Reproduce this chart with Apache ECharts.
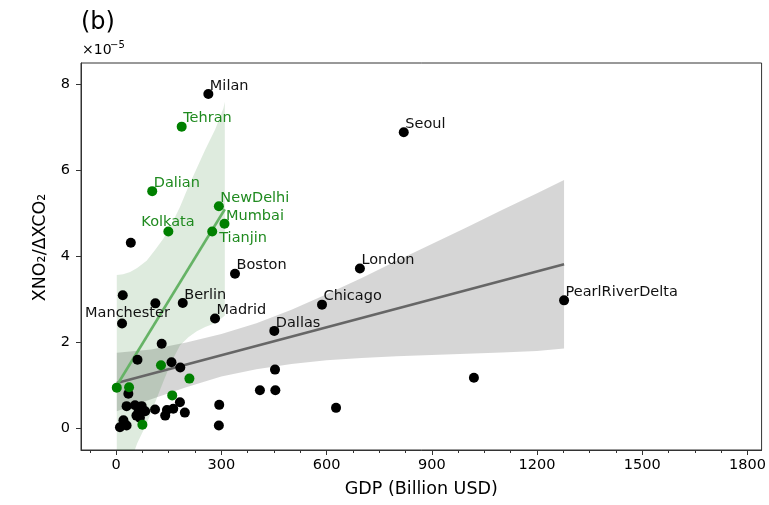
<!DOCTYPE html>
<html><head><meta charset="utf-8">
<script src="https://cdn.jsdelivr.net/npm/echarts@6/dist/echarts.min.js"></script>
<style>html,body{margin:0;padding:0;background:#fff}#c{width:769px;height:505px}</style>
</head><body><div id="c"></div>
<script>
// ---- data (ratio values in units of 1e-5) ----
const blackNames = ['Milan','Seoul','London','Boston','Berlin','Chicago','PearlRiverDelta','Madrid','Manchester','Dallas',
  '','','','','','','','','','','','','','','','','','','','','','','','','','','','','','',''];
const blackGDP = [263,820,695,339,190,587,1277,282,17,451,
  42,19,112,130,61,158,183,453,410,454,627,1020,35,182,294,293,30,54,73,64,83,68,58,111,140,145,163,196,21,11,30];
const blackRatio = [7.78,6.89,3.72,3.60,2.92,2.88,2.98,2.56,2.44,2.27,
  4.32,3.10,2.91,1.97,1.60,1.54,1.42,1.37,0.89,0.89,0.48,1.18,0.81,0.61,0.55,0.07,0.52,0.54,0.52,0.38,0.40,0.25,0.30,0.44,0.30,0.43,0.46,0.37,0.19,0.03,0.07];

const greenNames = ['Tehran','Dalian','NewDelhi','Mumbai','Tianjin','Kolkata','','','','','',''];
const greenGDP = [187,103,293,309,274,149,128,209,2,37,160,75];
const greenRatio = [7.02,5.52,5.17,4.76,4.58,4.58,1.47,1.16,0.95,0.96,0.77,0.09];

const greyFitGDP = [2, 1277];
const greyFitRatio = [1.06, 3.82];
const greenFitGDP = [2, 310];
const greenFitRatio = [1.00, 5.10];

const greyBandGDP = [2,100,200,300,400,500,600,700,800,900,1000,1100,1200,1277];
const greyBandUpper = [1.76,1.84,2.00,2.20,2.45,2.76,3.12,3.50,3.90,4.29,4.68,5.08,5.47,5.78];
const greyBandLower = [0.40,0.68,0.96,1.21,1.38,1.50,1.59,1.64,1.68,1.71,1.74,1.77,1.80,1.86];

const greenBandGDP = [2,20,40,60,87,111,135,158,182,206,230,254,282,306,310];
const greenBandUpper = [3.57,3.59,3.64,3.73,3.90,4.15,4.42,4.75,5.15,5.62,6.05,6.48,6.95,7.45,7.60];
const greenBandLower = [-2.5,-1.6,-0.8,-0.35,0.11,0.60,1.10,1.55,1.93,2.12,2.26,2.36,2.45,2.60,2.63];

const xTicks = [0,300,600,900,1200,1500,1800];
const xMinorTicks = [-75,75,150,225,375,450,525,675,750,825,975,1050,1125,1275,1350,1425,1575,1650,1725];
const yTicks = [0,2,4,6,8];

// ---- styling ----
const FONT = 'DejaVu Sans';
const labelPos = { Tianjin:[12,11.5], Kolkata:[-22,-4.5], Manchester:[-32,-5] };
const defaultPos = [6.5,-3];

function pointData(xs, ys, names, color){
  return xs.map((x,i)=>({
    value:[x, ys[i]],
    name: names[i],
    label:{
      show: !!names[i],
      formatter: names[i],
      position: labelPos[names[i]] || defaultPos,
      align:'left', verticalAlign:'middle',
      fontFamily: FONT, fontSize:14.5, color: color
    }
  }));
}

function bandSeries(xs, up, lo, color, z){
  return {
    type:'custom', coordinateSystem:'cartesian2d', silent:true, z:z,
    data: xs.map((x,i)=>[x, up[i], lo[i]]),
    encode:{x:0, y:[1,2]},
    renderItem(params, api){
      if (params.dataIndex !== 0) return;
      const pts = [];
      for (let i=0;i<xs.length;i++) pts.push(api.coord([xs[i], up[i]]));
      for (let i=xs.length-1;i>=0;i--) pts.push(api.coord([xs[i], lo[i]]));
      const cs = params.coordSys;
      return { type:'polygon', shape:{points:pts}, style:{fill:color},
        clipPath:{type:'rect', shape:{x:cs.x, y:cs.y, width:cs.width, height:cs.height}} };
    }
  };
}

const chart = echarts.init(document.getElementById('c'), null, {renderer:'canvas'});
chart.setOption({
  animation:false,
  backgroundColor:'#fff',
  title:{ text:'(b)', left:81, top:11, padding:0,
    textStyle:{fontFamily:FONT, fontSize:24, fontWeight:'normal', color:'#000'} },
  graphic:[
    {type:'text', left:82, top:43, style:{text:'×10', fontFamily:FONT, fontSize:14, fill:'#000'}},
    {type:'text', left:110, top:40, style:{text:'−5', fontFamily:FONT, fontSize:10, fill:'#000'}}
  ],
  grid:{left:81, right:6, top:63, bottom:55, show:true, borderColor:'#333', borderWidth:1, backgroundColor:'transparent'},
  xAxis:[{
    type:'value', min:-100, max:1840,
    name:'GDP (Billion USD)', nameLocation:'middle', nameGap:30,
    nameTextStyle:{fontFamily:FONT, fontSize:17.5, color:'#000'},
    axisLine:{show:true, onZero:false, lineStyle:{color:'#333', width:1}},
    axisTick:{show:true, customValues:xTicks, length:5, lineStyle:{color:'#333', width:1}},
    axisLabel:{customValues:xTicks, formatter:(v)=>String(v), fontFamily:FONT, fontSize:14.5, color:'#000', margin:8},
    splitLine:{show:false}
  },{
    type:'value', min:-100, max:1840, position:'bottom',
    axisLine:{show:false, onZero:false},
    axisTick:{show:true, customValues:xMinorTicks, length:3, lineStyle:{color:'#333', width:1}},
    axisLabel:{show:false}, splitLine:{show:false}
  }],
  yAxis:{
    type:'value', min:-0.5, max:8.5,
    name:'XNO₂/ΔXCO₂', nameLocation:'middle', nameGap:28, nameRotate:90,
    nameTextStyle:{fontFamily:FONT, fontSize:17.5, color:'#000', padding:[0,0,0,18]},
    axisLine:{show:true, onZero:false, lineStyle:{color:'#333', width:1}},
    axisTick:{show:true, customValues:yTicks, length:5, lineStyle:{color:'#333', width:1}},
    axisLabel:{customValues:yTicks, formatter:(v)=>String(v), fontFamily:FONT, fontSize:14.5, color:'#000', margin:11},
    splitLine:{show:false}
  },
  series:[
    bandSeries(greyBandGDP, greyBandUpper, greyBandLower, 'rgba(0,0,0,0.16)', 1),
    bandSeries(greenBandGDP, greenBandUpper, greenBandLower, 'rgba(0,100,0,0.13)', 1),
    { type:'line', data: greyFitGDP.map((x,i)=>[x, greyFitRatio[i]]), symbol:'none', z:2,
      lineStyle:{color:'#666666', width:2.6}, silent:true },
    { type:'line', data: greenFitGDP.map((x,i)=>[x, greenFitRatio[i]]), symbol:'none', z:2,
      lineStyle:{color:'#66b366', width:2.6}, silent:true },
    { type:'scatter', data: pointData(blackGDP, blackRatio, blackNames, '#111'), symbolSize:10, z:3,
      itemStyle:{color:'#000', opacity:1} },
    { type:'scatter', data: pointData(greenGDP, greenRatio, greenNames, '#1f8a1f'), symbolSize:10, z:4,
      itemStyle:{color:'#008000', opacity:1} }
  ]
});
</script>
</body></html>
